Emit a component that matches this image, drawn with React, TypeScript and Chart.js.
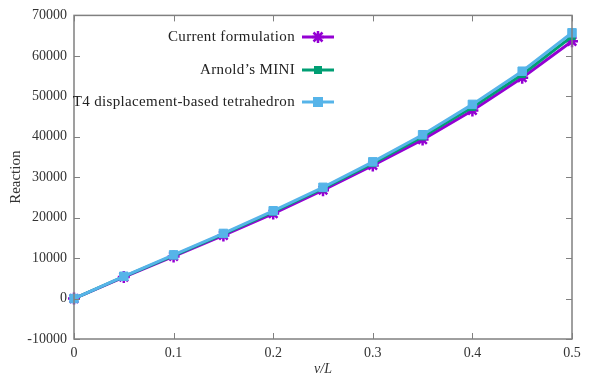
import React, { useEffect, useRef } from "react";
import { Chart, registerables } from "chart.js";
Chart.register(...registerables);

const xValues = [0, 0.05, 0.1, 0.15, 0.2, 0.25, 0.3, 0.35, 0.4, 0.45, 0.5];
const currentFormulation = [0, 5300, 10400, 15600, 21000, 26800, 32900, 39300, 46500, 54600, 63600];
const arnoldMini = [0, 5400, 10600, 15900, 21400, 27200, 33400, 40000, 47300, 55400, 64800];
const t4Displacement = [0, 5500, 10800, 16100, 21700, 27500, 33800, 40500, 48000, 56200, 65700];
const seriesNames = ["Current formulation", "Arnold\u2019s MINI", "T4 displacement-based tetrahedron"];
const seriesColors = ["#9400d3", "#009e73", "#56b4e9"];
const xTicks = [0, 0.1, 0.2, 0.3, 0.4, 0.5];
const yTicks = [-10000, 0, 10000, 20000, 30000, 40000, 50000, 60000, 70000];

const FONT = "'Liberation Serif', 'DejaVu Serif', serif";

function drawMarker(ctx: any, style: string, r: number, x: number, y: number, color: string) {
  ctx.save();
  ctx.strokeStyle = color;
  ctx.fillStyle = color;
  if (style === "star") {
    ctx.lineWidth = 2.5;
    ctx.beginPath();
    ctx.moveTo(x - r, y); ctx.lineTo(x + r, y);
    ctx.moveTo(x, y - r); ctx.lineTo(x, y + r);
    const d = r * 0.75;
    ctx.moveTo(x - d, y - d); ctx.lineTo(x + d, y + d);
    ctx.moveTo(x - d, y + d); ctx.lineTo(x + d, y - d);
    ctx.stroke();
  } else {
    ctx.fillRect(x - r, y - r, 2 * r, 2 * r);
  }
  ctx.restore();
}

const frame = {
  id: "frame",
  afterDraw(chart: any) {
    const { ctx, chartArea: a, scales } = chart;
    const xs = scales.x, ys = scales.y;
    ctx.save();
    ctx.strokeStyle = "#808080";
    ctx.lineWidth = 1.5;
    ctx.strokeRect(a.left, a.top, a.right - a.left, a.bottom - a.top);
    ctx.lineWidth = 1;
    ctx.beginPath();
    for (const v of xTicks) {
      const px = Math.round(xs.getPixelForValue(v)) + 0.5;
      ctx.moveTo(px, a.bottom); ctx.lineTo(px, a.bottom - 6);
      ctx.moveTo(px, a.top); ctx.lineTo(px, a.top + 6);
    }
    for (const v of yTicks) {
      const py = Math.round(ys.getPixelForValue(v)) + 0.5;
      ctx.moveTo(a.left, py); ctx.lineTo(a.left + 6, py);
      ctx.moveTo(a.right, py); ctx.lineTo(a.right - 6, py);
    }
    ctx.stroke();
    // legend
    const rows = [37, 70, 102];
    const styles = ["star", "rect", "rect"];
    const radii = [6, 4, 5];
    ctx.font = "15px " + FONT;
    (ctx as any).letterSpacing = "0.35px";
    ctx.textAlign = "right";
    ctx.textBaseline = "middle";
    for (let i = 0; i < 3; i++) {
      const y = rows[i];
      ctx.fillStyle = "#222";
      ctx.fillText(seriesNames[i], 295, y);
      ctx.strokeStyle = seriesColors[i];
      ctx.lineWidth = 3;
      ctx.beginPath();
      ctx.moveTo(302, y); ctx.lineTo(334, y);
      ctx.stroke();
      drawMarker(ctx, styles[i], radii[i], 318, y, seriesColors[i]);
    }
    (ctx as any).letterSpacing = "0px";
    ctx.restore();
  },
};

export default function App() {
  const ref = useRef<HTMLCanvasElement>(null);
  useEffect(() => {
    document.body.style.margin = "0";
    const mk = (d: number[]) => d.map((v, i) => ({ x: xValues[i], y: v }));
    const chart = new Chart(ref.current!, {
      type: "scatter",
      data: {
        datasets: [
          {
            label: seriesNames[0], data: mk(currentFormulation), showLine: true,
            borderColor: seriesColors[0], backgroundColor: seriesColors[0],
            borderWidth: 3, pointStyle: "star", pointRadius: 6, pointBorderWidth: 2.5,
            order: 3, clip: false,
          },
          {
            label: seriesNames[1], data: mk(arnoldMini), showLine: true,
            borderColor: seriesColors[1], backgroundColor: seriesColors[1],
            borderWidth: 3, pointStyle: "rect", pointRadius: 4.5, pointBorderWidth: 1,
            order: 2, clip: false,
          },
          {
            label: seriesNames[2], data: mk(t4Displacement), showLine: true,
            borderColor: seriesColors[2], backgroundColor: seriesColors[2],
            borderWidth: 3, pointStyle: "rect", pointRadius: 6, pointBorderWidth: 1,
            order: 1, clip: false,
          },
        ],
      } as any,
      options: {
        animation: false,
        responsive: false,
        maintainAspectRatio: false,
        layout: { padding: { top: 14, right: 23, left: 0, bottom: 0 } },
        plugins: { legend: { display: false }, tooltip: { enabled: false } },
        scales: {
          x: {
            type: "linear", min: 0, max: 0.5,
            afterBuildTicks: (s: any) => { s.ticks = xTicks.map((v) => ({ value: v })); },
            afterFit: (s: any) => { s.height = 43; },
            grid: { display: false, drawTicks: false },
            border: { display: false },
            ticks: { color: "#333", font: { family: FONT, size: 14 }, padding: 6, maxRotation: 0,
              callback: (v: any) => String(v) },
            title: { display: true, text: "v/L", color: "#333", font: { family: FONT, size: 14, style: "italic" }, padding: { top: 0, bottom: 4 } },
          },
          y: {
            type: "linear", min: -10000, max: 70000,
            afterBuildTicks: (s: any) => { s.ticks = yTicks.map((v) => ({ value: v })); },
            afterFit: (s: any) => { s.width = 74; },
            grid: { display: false, drawTicks: false },
            border: { display: false },
            ticks: { color: "#333", font: { family: FONT, size: 14 }, padding: 7,
              callback: (v: any) => String(v) },
            title: { display: true, text: "Reaction", color: "#333", font: { family: FONT, size: 15 }, padding: { top: 7, bottom: 0 } },
          },
        },
      } as any,
      plugins: [frame],
    });
    return () => chart.destroy();
  }, []);
  return <canvas ref={ref} width={595} height={382} style={{ display: "block" }} />;
}
